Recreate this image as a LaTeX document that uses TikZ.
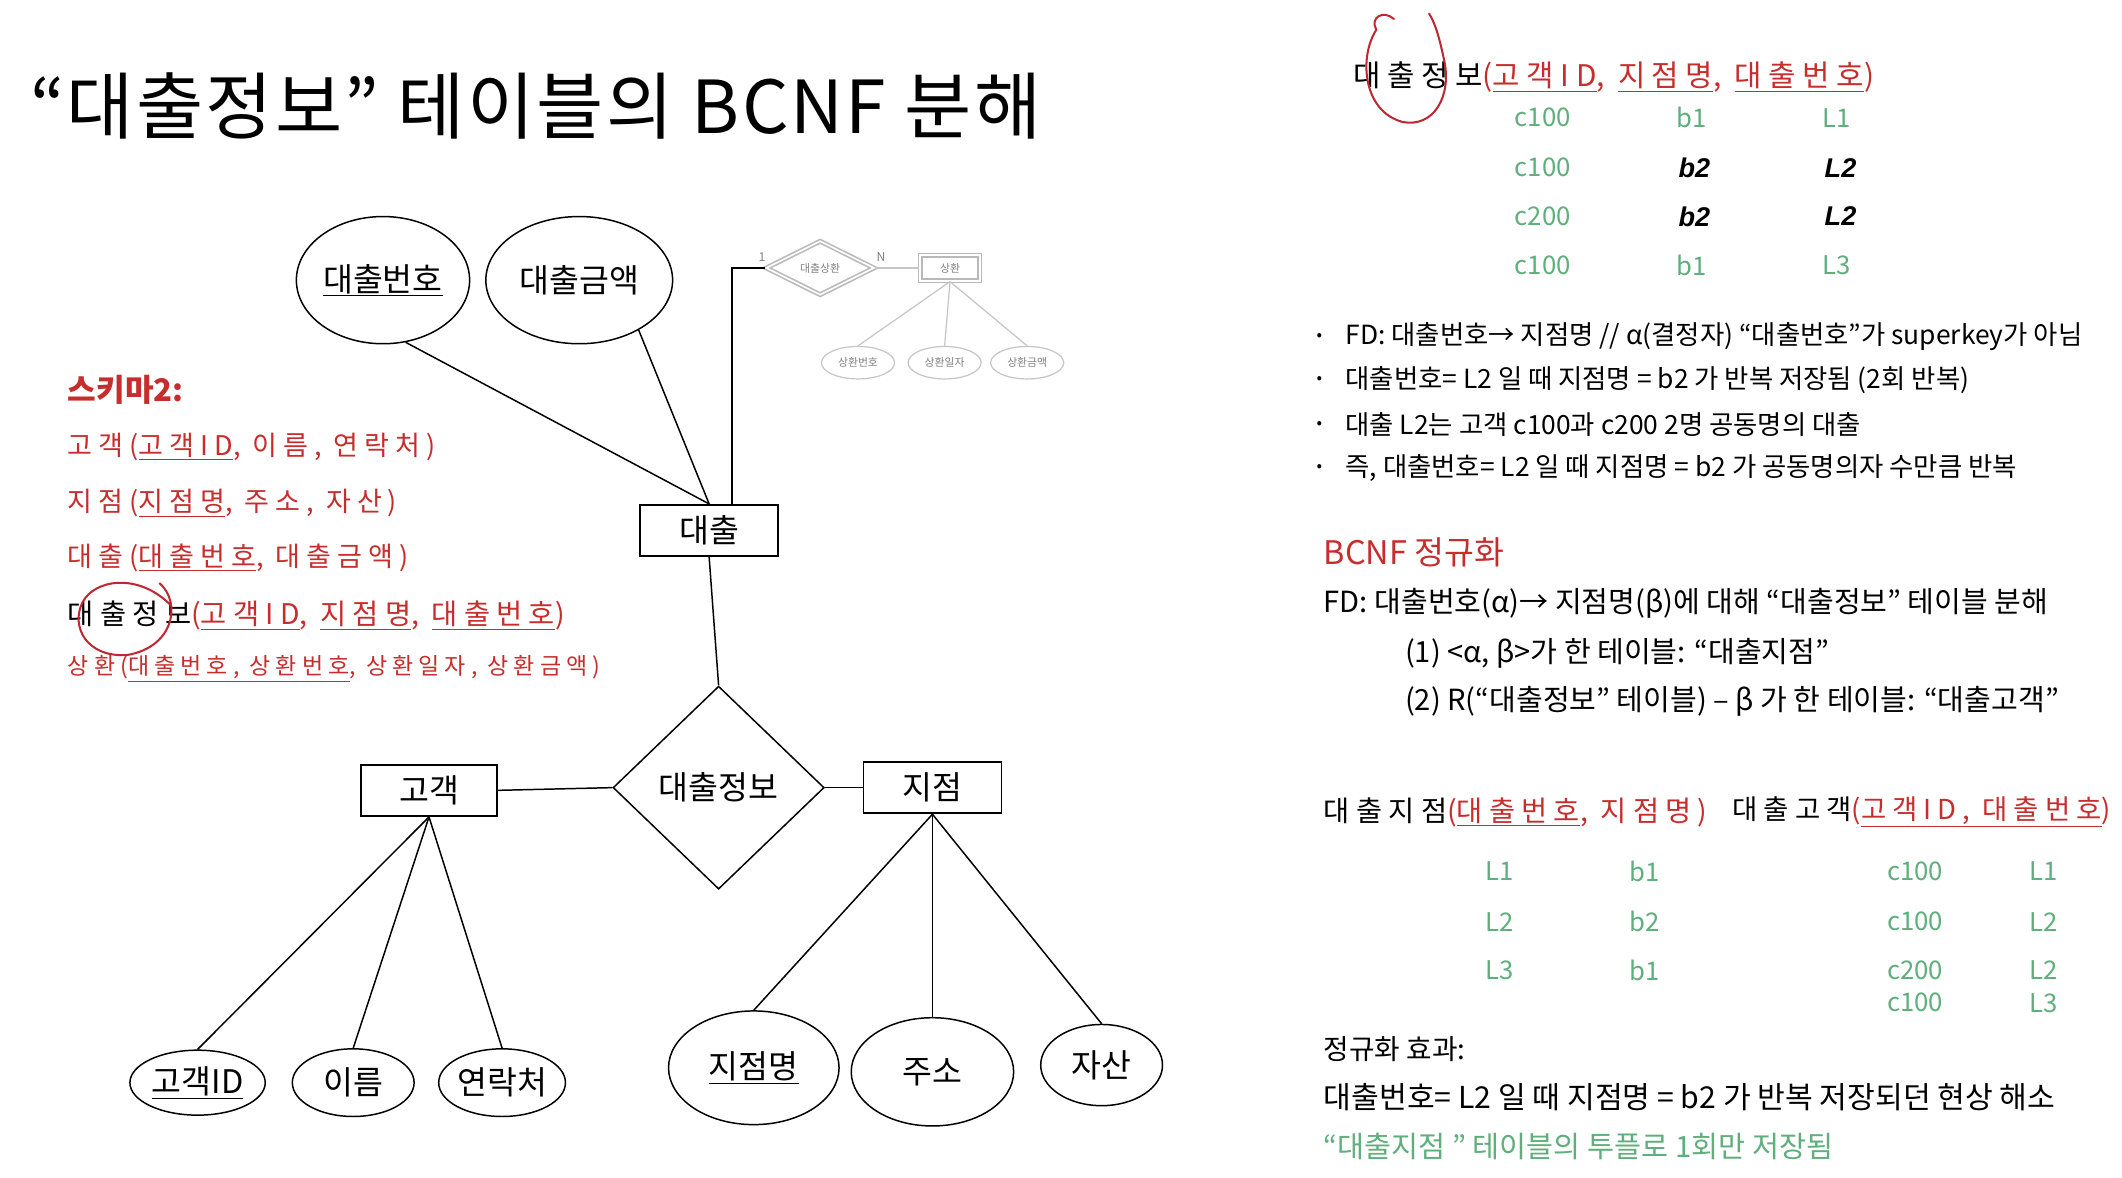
\documentclass[tikz,border=0pt]{standalone}
\usepackage{fontspec}
\setmainfont{Noto Sans CJK KR}
\newfontfamily\spfont[LetterSpace=22]{Noto Sans CJK KR}
\newfontfamily\tifont[LetterSpace=3]{Noto Sans CJK KR}
\newfontfamily\libfont{Liberation Sans}
\usetikzlibrary{shapes.geometric}
\definecolor{myred}{RGB}{200,45,45}
\definecolor{mygreen}{RGB}{95,175,125}
\definecolor{markred}{RGB}{190,40,50}
\newcommand\fs[1]{\fontsize{#1}{#1}\selectfont}
\begin{document}
\begin{tikzpicture}[x=1pt,y=-1pt,
  ent/.style={draw, line width=1.3pt, minimum width=102pt, minimum height=38pt, inner sep=0pt, font=\fs{24}},
  attr/.style={draw, ellipse, line width=1.1pt, inner sep=0pt, font=\fs{24}},
  rel/.style={draw, diamond, line width=1.1pt, inner sep=0pt, font=\fs{24}},
  er/.style={line width=1.1pt},
  weak/.style={draw=gray!55, double=white, double distance=1.2pt, line width=1.2pt, inner sep=0pt, font=\fs{8}, text=gray},
  wattr/.style={draw=gray!45, ellipse, line width=0.9pt, inner sep=0pt, font=\fs{8}, text=gray, minimum width=54pt, minimum height=24pt},
  wline/.style={draw=gray!45, line width=0.9pt},
  txt/.style={anchor=west, inner sep=0pt},
  cell/.style={inner sep=0pt, text=mygreen, font=\fs{19}},
  hcell/.style={inner sep=0pt, font=\libfont\bfseries\itshape\fs{20}},
  handmark/.style={draw=markred, line width=1.5pt, line cap=round}]
\fill[white] (0,0) rectangle (1568,870);
\useasboundingbox (0,0) rectangle (1568,870);

% title
\node[txt, font=\tifont\fs{54}] (title) at (22,78) {“대출정보” 테이블의 BCNF 분해};

% ER diagram
\node[attr, minimum width=128pt, minimum height=94pt] (loanno) at (283,207) {\underline{대출번호}};
\node[attr, minimum width=138pt, minimum height=94pt] (amount) at (428,207) {대출금액};
\node[ent] (loan) at (524,392) {대출};
\node[rel, minimum width=156pt, minimum height=150pt] (info) at (531,582) {대출정보};
\node[ent, minimum width=100pt] (cust) at (317,584) {고객};
\node[ent] (branch) at (689,582) {지점};
\node[attr, minimum width=100pt, minimum height=48pt] (cid) at (146,800) {\underline{고객ID}};
\node[attr, minimum width=90pt, minimum height=50pt] (cname) at (261,800) {이름};
\node[attr, minimum width=92pt, minimum height=50pt] (contact) at (371,800) {연락처};
\node[attr, minimum width=126pt, minimum height=84pt] (bname) at (557,789) {\underline{지점명}};
\node[attr, minimum width=120pt, minimum height=80pt] (addr) at (689,792) {주소};
\node[attr, minimum width=90pt, minimum height=60pt] (asset) at (814,787) {자산};

\draw[er] (loanno.-70) -- (loan.north);
\draw[er] (amount.-40) -- (loan.north);
\draw[er] (loan.south) -- (info.north);
\draw[er] (cust.east) -- (info.west);
\draw[er] (info.east) -- (branch.west);
\draw[er] (cust.south) -- (cid.north);
\draw[er] (cust.south) -- (cname.north);
\draw[er] (cust.south) -- (contact.north);
\draw[er] (branch.south) -- (bname.north);
\draw[er] (branch.south) -- (addr.north);
\draw[er] (branch.south) -- (asset.north);

% weak entity part
\node[weak, diamond, minimum width=80pt, minimum height=40pt] (ldiam) at (606,198) {대출상환};
\node[weak, minimum width=44pt, minimum height=19pt] (repay) at (702,198) {상환};
\node[wattr] (r1) at (634,268) {상환번호};
\node[wattr] (r2) at (698,268) {상환일자};
\node[wattr] (r3) at (759,268) {상환금액};
\node[inner sep=0pt, font=\fs{9}, text=gray] (one) at (563,190) {1};
\node[inner sep=0pt, font=\fs{9}, text=gray] (many) at (651,190) {N};
\coordinate (bend) at (541,198);
\draw[er] (loan.north -| bend) |- (ldiam.west);
\draw[wline] (ldiam.east) -- (repay.west);
\draw[wline] (repay.south) -- (r1.north);
\draw[wline] (repay.south) -- (r2.north);
\draw[wline] (repay.south) -- (r3.north);

% schema text (left)
\node[txt, text=myred, font=\fs{23}\bfseries] (s0) at (50,288) {스키마2:};
\node[txt, text=myred, font=\spfont\fs{20}] (s1) at (50,330) {고객(\underline{고객ID}, 이름, 연락처)};
\node[txt, text=myred, font=\spfont\fs{20}] (s2) at (50,372) {지점(\underline{지점명}, 주소, 자산)};
\node[txt, text=myred, font=\spfont\fs{20}] (s3) at (50,412) {대출(\underline{대출번호}, 대출금액)};
\node[txt, text=myred, font=\spfont\fs{21}] (s4) at (50,455) {{\color{black}대출정보}(\underline{고객ID}, \underline{지점명}, \underline{대출번호})};
\node[txt, text=myred, font=\spfont\fs{17}] (s5) at (50,494) {상환(\underline{대출번호, 상환번호}, 상환일자, 상환금액)};
\draw[handmark] (118,431) .. controls (134,445) and (129,478) .. (94,484) .. controls (64,486) and (52,463) .. (61,445) .. controls (70,428) and (102,423) .. (126,447);

% right side
\node[txt, text=myred, font=\spfont\fs{22}] (h1) at (1000,57) {{\color{black}대출정보}(\underline{고객ID}, \underline{지점명}, \underline{대출번호})};
\draw[handmark] (1030,14) .. controls (1022,7) and (1012,13) .. (1017,22) .. controls (1004,42) and (1007,82) .. (1036,90) .. controls (1060,95) and (1073,70) .. (1067,44) .. controls (1064,30) and (1061,18) .. (1056,10);

\node[cell] (t11) at (1140,87) {c100};
\node[cell] (t12) at (1250,87) {b1};
\node[cell] (t13) at (1357,87) {L1};
\node[cell] (t21) at (1140,124) {c100};
\node[hcell] (t22) at (1252,124) {b2};
\node[hcell] (t23) at (1360,124) {L2};
\node[cell] (t31) at (1140,160) {c200};
\node[hcell] (t32) at (1252,160) {b2};
\node[hcell] (t33) at (1360,160) {L2};
\node[cell] (t41) at (1140,196) {c100};
\node[cell] (t42) at (1250,196) {b1};
\node[cell] (t43) at (1357,196) {L3};

\node[inner sep=0pt, font=\fs{12}] (d1) at (975,249) {•};
\node[inner sep=0pt, font=\fs{12}] (d2) at (975,281) {•};
\node[inner sep=0pt, font=\fs{12}] (d3) at (975,314) {•};
\node[inner sep=0pt, font=\fs{12}] (d4) at (975,346) {•};
\node[txt, font=\fs{19.5}] (b1) at (994,249) {FD: 대출번호→ 지점명 // α(결정자) “대출번호”가 superkey가 아님};
\node[txt, font=\fs{19.5}] (b2) at (994,281) {대출번호= L2 일 때 지점명 = b2 가 반복 저장됨 (2회 반복)};
\node[txt, font=\fs{19.5}] (b3) at (994,314) {대출 L2는 고객 c100과 c200 2명 공동명의 대출};
\node[txt, font=\fs{19.5}] (b4) at (994,346) {즉, 대출번호= L2 일 때 지점명 = b2 가 공동명의자 수만큼 반복};

\node[txt, text=myred, font=\fs{24}] (bcnf) at (978,408) {BCNF 정규화};
\node[txt, font=\fs{21.5}] (fd) at (978,446) {FD: 대출번호(α)→ 지점명(β)에 대해 “대출정보” 테이블 분해};
\node[txt, font=\fs{21.5}] (p1) at (1038,483) {(1) <α, β>가 한 테이블: “대출지점”};
\node[txt, font=\fs{21.5}] (p2) at (1038,518) {(2) R(“대출정보” 테이블) – β 가 한 테이블: “대출고객”};

\node[txt, text=myred, font=\spfont\fs{21}] (h2) at (978,600) {{\color{black}대출지점}(\underline{대출번호}, 지점명)};
\node[txt, text=myred, font=\spfont\fs{20.3}] (h3) at (1280,600) {{\color{black}대출고객}(\underline{고객ID, 대출번호})};

\node[cell] (u11) at (1108,644) {L1};
\node[cell] (u12) at (1215,644) {b1};
\node[cell] (u21) at (1108,681) {L2};
\node[cell] (u22) at (1215,681) {b2};
\node[cell] (u31) at (1108,717) {L3};
\node[cell] (u32) at (1215,717) {b1};

\node[cell] (v11) at (1415,644) {c100};
\node[cell] (v12) at (1510,644) {L1};
\node[cell] (v21) at (1415,681) {c100};
\node[cell] (v22) at (1510,681) {L2};
\node[cell] (v31) at (1415,717) {c200};
\node[cell] (v32) at (1510,717) {L2};
\node[cell] (v41) at (1415,741) {c100};
\node[cell] (v42) at (1510,741) {L3};

\node[txt, font=\fs{20.5}] (eff) at (978,775) {정규화 효과:};
\node[txt, font=\fs{22.3}] (eff1) at (978,811) {대출번호= L2 일 때 지점명 = b2 가 반복 저장되던 현상 해소};
\node[txt, text=mygreen, font=\fs{21.7}] (eff2) at (978,847) {“대출지점 ” 테이블의 투플로 1회만 저장됨};
\end{tikzpicture}
\end{document}
